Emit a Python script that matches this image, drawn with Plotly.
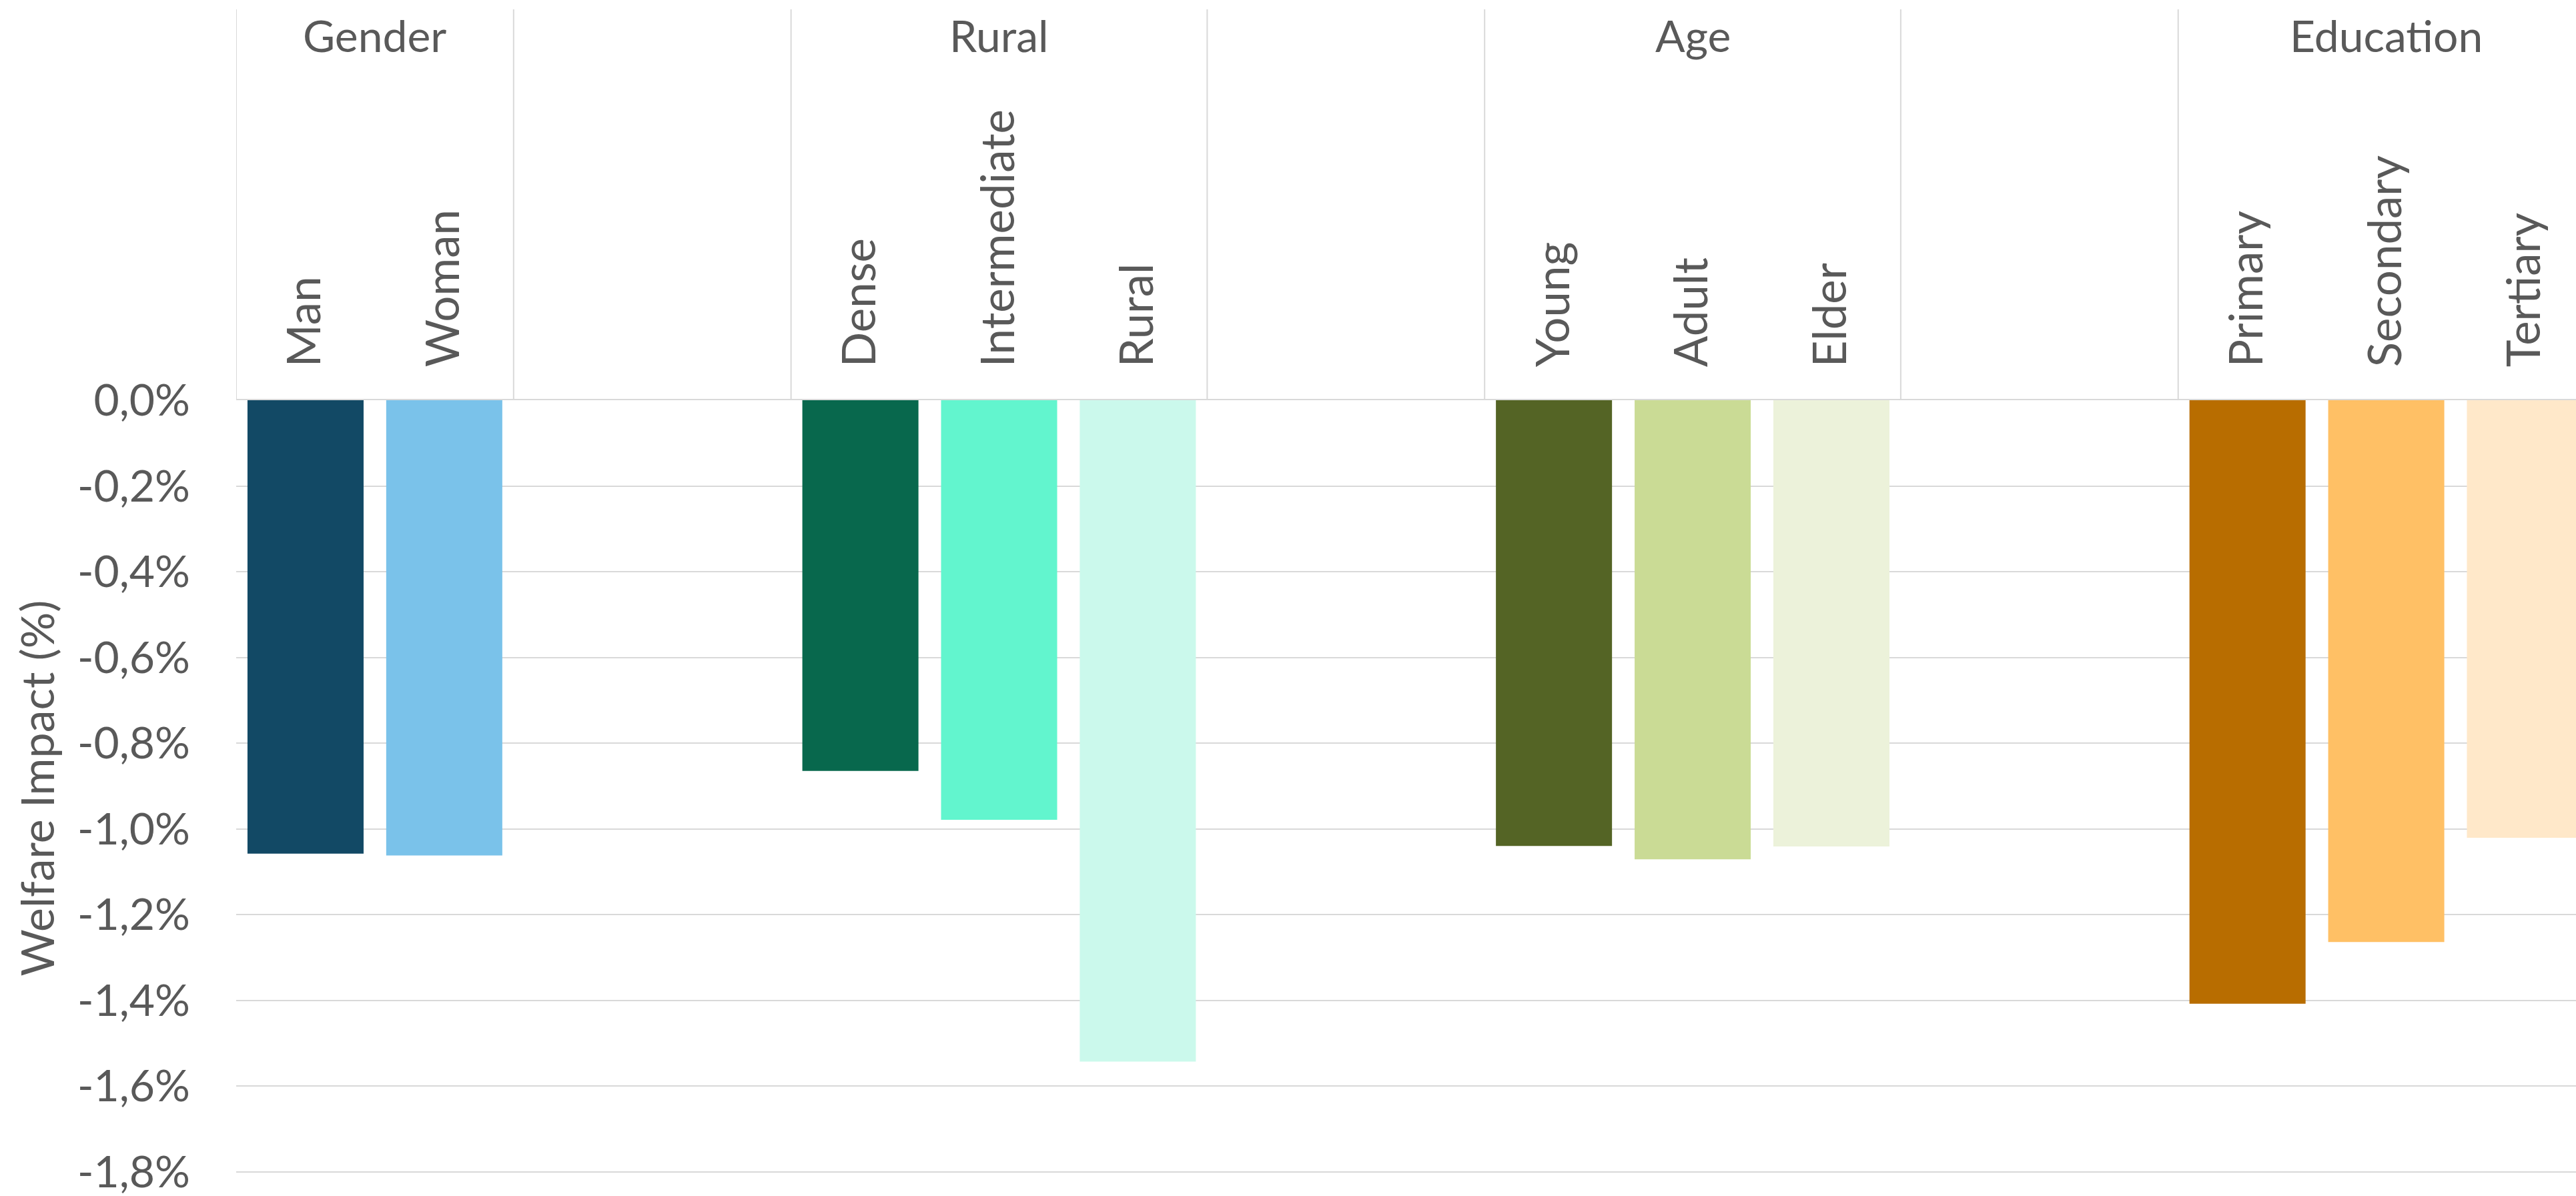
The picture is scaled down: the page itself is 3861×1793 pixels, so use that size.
import plotly.graph_objects as go

# Welfare impact by household characteristic (percent)
group_names = ["Gender", "Rural", "Age", "Education"]
group_members = [
    ["Man", "Woman"],
    ["Dense", "Intermediate", "Rural"],
    ["Young", "Adult", "Elder"],
    ["Primary", "Secondary", "Tertiary"],
]
group_values = [
    [-1.058, -1.062],
    [-0.865, -0.979, -1.543],
    [-1.040, -1.071, -1.041],
    [-1.408, -1.264, -1.021],
]
group_colors = [
    ["#124965", "#7AC2EA"],
    ["#08684D", "#62F5CE", "#CBF9EC"],
    ["#546425", "#CADB95", "#ECF2DA"],
    ["#B86D00", "#FFC065", "#FFE8C9"],
]
y_tick_values = [0, -0.2, -0.4, -0.6, -0.8, -1.0, -1.2, -1.4, -1.6, -1.8]
y_tick_labels = ["0,0%", "-0,2%", "-0,4%", "-0,6%", "-0,8%",
                 "-1,0%", "-1,2%", "-1,4%", "-1,6%", "-1,8%"]

TEXT = "#595959"
GRID = "#D9D9D9"
FONT = "Lato"
FS = 66
EMPTY_SLOTS = 2  # blank category slots between groups

# lay out category slots: each group followed by an empty gap
positions, labels, values, colors = [], [], [], []
group_spans = []
slot = 0
for name, members, vals, cols in zip(group_names, group_members, group_values, group_colors):
    start = slot
    for m, v, c in zip(members, vals, cols):
        positions.append(slot)
        labels.append(m)
        values.append(v)
        colors.append(c)
        slot += 1
    group_spans.append((start, slot - 1))
    slot += EMPTY_SLOTS

fig = go.Figure()
fig.add_trace(go.Bar(
    x=positions, y=values, width=0.837,
    marker=dict(color=colors, line=dict(width=0)),
    hovertemplate="%{y:.2f}%<extra></extra>",
))

TOP, BOTTOM = 600, 30
plot_h = 1793 - TOP - BOTTOM

# header: vertical separators around each group and blank gap
header_top = 1 + (TOP - 14) / plot_h
edges = set()
for a, b in group_spans:
    edges.add(a - 0.5)
    edges.add(b + 0.5)
    edges.add(b + 0.5 + EMPTY_SLOTS)
for e in sorted(edges):
    fig.add_shape(type="line", xref="x", yref="paper", x0=e, x1=e,
                  y0=1, y1=header_top, line=dict(color=GRID, width=2))

# group names above the category labels
for name, (a, b) in zip(group_names, group_spans):
    fig.add_annotation(x=(a + b) / 2, xref="x", y=1 + (TOP - 52) / plot_h, yref="paper",
                       text=name, showarrow=False, yanchor="middle",
                       font=dict(family=FONT, size=FS, color=TEXT))

fig.update_layout(
    width=3861, height=1793,
    margin=dict(l=354, r=0, t=TOP, b=BOTTOM, autoexpand=False),
    plot_bgcolor="white", paper_bgcolor="white",
    showlegend=False,
    font=dict(family=FONT, size=FS, color=TEXT),
    xaxis=dict(
        range=[-0.5, 16.368], side="top",
        tickmode="array", tickvals=positions, ticktext=labels,
        tickangle=-90, ticks="", ticklabelstandoff=34,
        showgrid=False, zeroline=False,
        showline=True, linecolor=GRID, linewidth=2,
        tickfont=dict(family=FONT, size=69, color=TEXT),
    ),
    yaxis=dict(
        range=[-1.81, 0],
        tickmode="array", tickvals=y_tick_values, ticktext=y_tick_labels,
        ticks="", ticklabelstandoff=68, ticklabeloverflow="allow",
        showgrid=True, gridcolor=GRID, gridwidth=2,
        zeroline=False, showline=False,
        tickfont=dict(family=FONT, size=FS, color=TEXT),
        title=dict(text="Welfare Impact (%)", standoff=12,
                   font=dict(family=FONT, size=68, color=TEXT)),
    ),
)

fig.write_html("out.html")
